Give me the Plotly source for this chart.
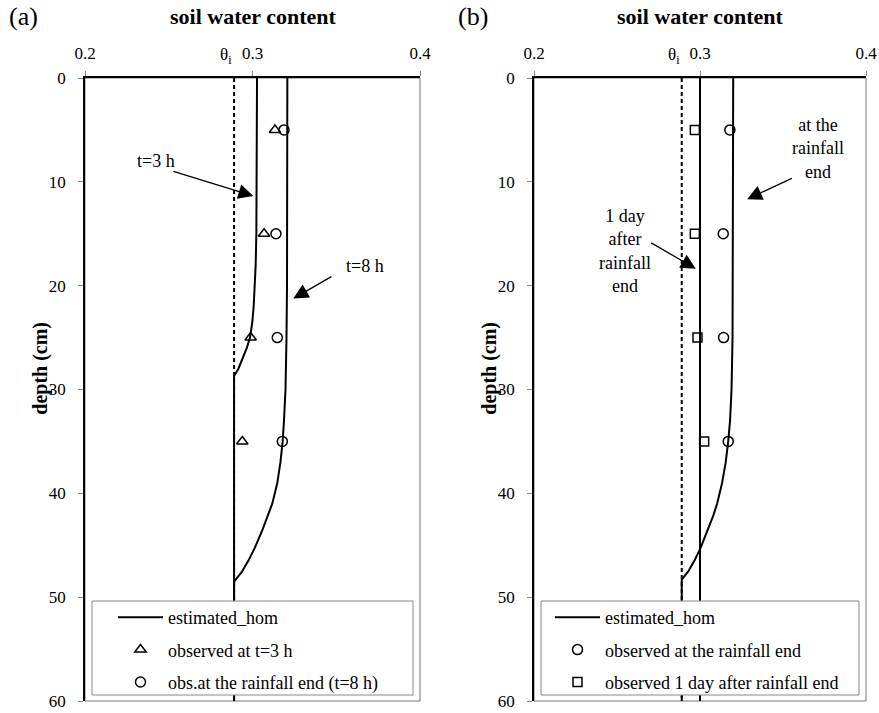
import plotly.graph_objects as go

W, H = 879, 713
FONT = "Liberation Serif"

# ---------------- data ----------------
theta_i = 0.289
depth_init = [0, 60]
theta_init = [theta_i, theta_i]

# panel (a): estimated profiles
depth_t3 = [0, 10, 15, 18, 20, 22, 23.5, 25, 26, 27, 28, 28.7, 60]
theta_t3 = [0.3027, 0.3026, 0.3023, 0.3019, 0.3014, 0.3007, 0.2999, 0.2985,
            0.2966, 0.2943, 0.2916, 0.289, 0.289]
depth_t8 = [0, 15, 20, 25, 30, 33, 35, 37, 39, 41, 42.1, 43.5, 45.2, 46.5, 47.6, 48.5, 60]
theta_t8 = [0.3208, 0.3208, 0.3206, 0.3203, 0.3197, 0.3188, 0.318, 0.3167, 0.3148,
            0.3118, 0.3094, 0.306, 0.3015, 0.2975, 0.2935, 0.289, 0.289]

# observations (both panels)
obs_depth = [5, 15, 25, 35]
obs_t3_a = [0.3134, 0.3069, 0.2989, 0.2939]
obs_end_a = [0.3188, 0.3140, 0.3148, 0.3178]

# panel (b): estimated profiles
depth_end_b = [0, 20, 25, 30, 33, 35, 37, 39, 41, 42.1, 43.5, 45.2, 46.5, 47.5, 48.3, 60]
theta_end_b = [0.3200, 0.3199, 0.3196, 0.3190, 0.3181, 0.3170, 0.3155, 0.3133, 0.3103,
               0.3081, 0.3048, 0.3005, 0.2966, 0.2930, 0.289, 0.289]
depth_1day_b = [0, 60]
theta_1day_b = [0.300, 0.300]
obs_end_b = [0.3180, 0.3140, 0.3142, 0.3170]
obs_1day_b = [0.2969, 0.2969, 0.2985, 0.3025]

x_ticks = [0.2, 0.3, 0.4]
x_ticktext = ["0.2", "0.3", "0.4"]
y_ticks = [0, 10, 20, 30, 40, 50, 60]

# ---------------- layout geometry (px) ----------------
def px_x(p):
    return p / W

def px_y(p):
    return (H - p) / H

A_L, A_R = 85, 420
B_L, B_R = 534, 866
P_T, P_B = 78, 701

fig = go.Figure()

line_style = dict(color="black", width=2)
dash_style = dict(color="black", width=2, dash="4px,3px")

# ---- panel a ----
fig.add_trace(go.Scatter(x=theta_init, y=depth_init, mode="lines", line=dash_style,
                         showlegend=False, xaxis="x", yaxis="y", hoverinfo="skip"))
fig.add_trace(go.Scatter(x=theta_t3, y=depth_t3, mode="lines", line=line_style,
                         name="estimated_hom", legendgroup="ea", legend="legend",
                         xaxis="x", yaxis="y"))
fig.add_trace(go.Scatter(x=theta_t8, y=depth_t8, mode="lines", line=line_style,
                         name="estimated_hom", legendgroup="ea", showlegend=False,
                         legend="legend", xaxis="x", yaxis="y"))
fig.add_trace(go.Scatter(x=obs_t3_a, y=obs_depth, mode="markers",
                         marker=dict(symbol="triangle-up-open", size=10, color="black",
                                     line=dict(width=1.5, color="black")),
                         name="observed at t=3 h", legendgroup="oa3", legend="legend",
                         xaxis="x", yaxis="y"))
fig.add_trace(go.Scatter(x=obs_end_a, y=obs_depth, mode="markers",
                         marker=dict(symbol="circle-open", size=10, color="black",
                                     line=dict(width=1.5, color="black")),
                         name="obs.at the rainfall end (t=8 h)", legendgroup="oa8",
                         legend="legend", xaxis="x", yaxis="y"))

# ---- panel b ----
fig.add_trace(go.Scatter(x=theta_init, y=depth_init, mode="lines", line=dash_style,
                         showlegend=False, xaxis="x2", yaxis="y2", hoverinfo="skip"))
fig.add_trace(go.Scatter(x=theta_1day_b, y=depth_1day_b, mode="lines", line=line_style,
                         name="estimated_hom", legendgroup="eb", legend="legend2",
                         xaxis="x2", yaxis="y2"))
fig.add_trace(go.Scatter(x=theta_end_b, y=depth_end_b, mode="lines", line=line_style,
                         name="estimated_hom", legendgroup="eb", showlegend=False,
                         legend="legend2", xaxis="x2", yaxis="y2"))
fig.add_trace(go.Scatter(x=obs_end_b, y=obs_depth, mode="markers",
                         marker=dict(symbol="circle-open", size=10, color="black",
                                     line=dict(width=1.5, color="black")),
                         name="observed at the rainfall end", legendgroup="ob8",
                         legend="legend2", xaxis="x2", yaxis="y2"))
fig.add_trace(go.Scatter(x=obs_1day_b, y=obs_depth, mode="markers",
                         marker=dict(symbol="square-open", size=9, color="black",
                                     line=dict(width=1.5, color="black")),
                         name="observed 1 day after rainfall end", legendgroup="ob1",
                         legend="legend2", xaxis="x2", yaxis="y2"))

tickfont = dict(family=FONT, size=17, color="black")

def xaxis_cfg(l, r, anchor):
    return dict(domain=[px_x(l), px_x(r)], range=[0.2, 0.4], side="top", anchor=anchor,
                tickvals=x_ticks, ticktext=x_ticktext, showline=True, linecolor="black",
                linewidth=1.5, ticks="outside", ticklen=5, tickcolor="#888",
                tickwidth=1, showgrid=False, zeroline=False, tickfont=tickfont,
                ticklabelstandoff=5, ticklabeloverflow="allow", fixedrange=True)

def yaxis_cfg(anchor):
    return dict(domain=[px_y(P_B), px_y(P_T)], range=[60, 0], anchor=anchor,
                tickvals=y_ticks, showline=True, linecolor="black", linewidth=1.5,
                ticks="outside", ticklen=5, tickcolor="#888", tickwidth=1,
                showgrid=False, zeroline=False, tickfont=tickfont,
                ticklabelstandoff=9, ticklabeloverflow="allow", fixedrange=True)

legend_common = dict(bgcolor="rgba(0,0,0,0)", borderwidth=0,
                     font=dict(family=FONT, size=18, color="black"),
                     itemwidth=45, tracegroupgap=6, traceorder="grouped",
                     xanchor="left", yanchor="top")

shapes = []
for ax in ["x", "x2"]:
    yax = "y" if ax == "x" else "y2"
    shapes.append(dict(type="rect", xref=f"{ax} domain", yref=f"{yax} domain",
                       x0=0, x1=1, y0=0, y1=1, line=dict(color="#777", width=1),
                       layer="below"))
# legend boxes
shapes.append(dict(type="rect", xref="paper", yref="paper",
                   x0=px_x(92), x1=px_x(413), y0=px_y(695), y1=px_y(601),
                   line=dict(color="#888", width=1), fillcolor="white", layer="above"))
shapes.append(dict(type="rect", xref="paper", yref="paper",
                   x0=px_x(541), x1=px_x(859), y0=px_y(695), y1=px_y(601),
                   line=dict(color="#888", width=1), fillcolor="white", layer="above"))

ann = []
txt = dict(family=FONT, size=18, color="black")
C = dict(xanchor="center", yanchor="middle", showarrow=False)
# panel labels and titles
ann.append(dict(text="(a)", x=px_x(23), y=px_y(16), xref="paper", yref="paper",
                font=dict(family=FONT, size=26, color="black"), **C))
ann.append(dict(text="(b)", x=px_x(473), y=px_y(16), xref="paper", yref="paper",
                font=dict(family=FONT, size=26, color="black"), **C))
for (l, r) in [(A_L, A_R), (B_L, B_R)]:
    ann.append(dict(text="<b>soil water content</b>", x=px_x((l + r) / 2), y=px_y(16),
                    xref="paper", yref="paper",
                    font=dict(family=FONT, size=22, color="black"), **C))
# y-axis titles
ann.append(dict(text="<b>depth (cm)</b>", x=px_x(41), y=28, xref="paper", yref="y",
                textangle=-90, font=dict(family=FONT, size=20, color="black"), **C))
ann.append(dict(text="<b>depth (cm)</b>", x=px_x(490), y=28, xref="paper", yref="y2",
                textangle=-90, font=dict(family=FONT, size=20, color="black"), **C))
# theta_i labels
for xr in ["x", "x2"]:
    ann.append(dict(text="θ<sub>i</sub>", x=theta_i, xref=xr, y=px_y(56), yref="paper",
                    xanchor="right", yanchor="middle", showarrow=False,
                    font=dict(family=FONT, size=17, color="black")))

arrow = dict(showarrow=True, arrowhead=2, arrowsize=2.3, arrowwidth=1.3,
             arrowcolor="black", text="", standoff=0)
# panel a annotations
ann.append(dict(text="t=3 h", x=0.2424, y=8.0, xref="x", yref="y", font=txt, **C))
ann.append(dict(x=0.3005, y=11.36, ax=0.2519, ay=8.95, xref="x", yref="y",
                axref="x", ayref="y", **arrow))
ann.append(dict(text="t=8 h", x=0.3672, y=18.1, xref="x", yref="y", font=txt, **C))
ann.append(dict(x=0.3244, y=21.24, ax=0.348, ay=19.04, xref="x", yref="y",
                axref="x", ayref="y", **arrow))
# panel b annotations
ann.append(dict(text="at the<br>rainfall<br>end", x=0.3710, y=6.8, xref="x2", yref="y2",
                font=txt, **C))
ann.append(dict(x=0.3284, y=11.67, ax=0.3562, ay=9.6, xref="x2", yref="y2",
                axref="x2", ayref="y2", **arrow))
ann.append(dict(text="1 day<br>after<br>rainfall<br>end", x=0.2549, y=16.65, xref="x2",
                yref="y2", font=txt, **C))
ann.append(dict(x=0.2975, y=18.37, ax=0.2697, ay=15.8, xref="x2", yref="y2",
                axref="x2", ayref="y2", **arrow))

fig.update_layout(
    width=W, height=H, margin=dict(l=0, r=0, t=0, b=0, autoexpand=False),
    paper_bgcolor="white", plot_bgcolor="white",
    font=dict(family=FONT, color="black"),
    xaxis=xaxis_cfg(A_L, A_R, "y"), yaxis=yaxis_cfg("x"),
    xaxis2=xaxis_cfg(B_L, B_R, "y2"), yaxis2=yaxis_cfg("x2"),
    legend=dict(x=px_x(113), y=px_y(599), **legend_common),
    legend2=dict(x=px_x(550), y=px_y(599), **legend_common),
    shapes=shapes, annotations=ann, hovermode=False,
)

fig.write_html("out.html", config={"displayModeBar": False})
